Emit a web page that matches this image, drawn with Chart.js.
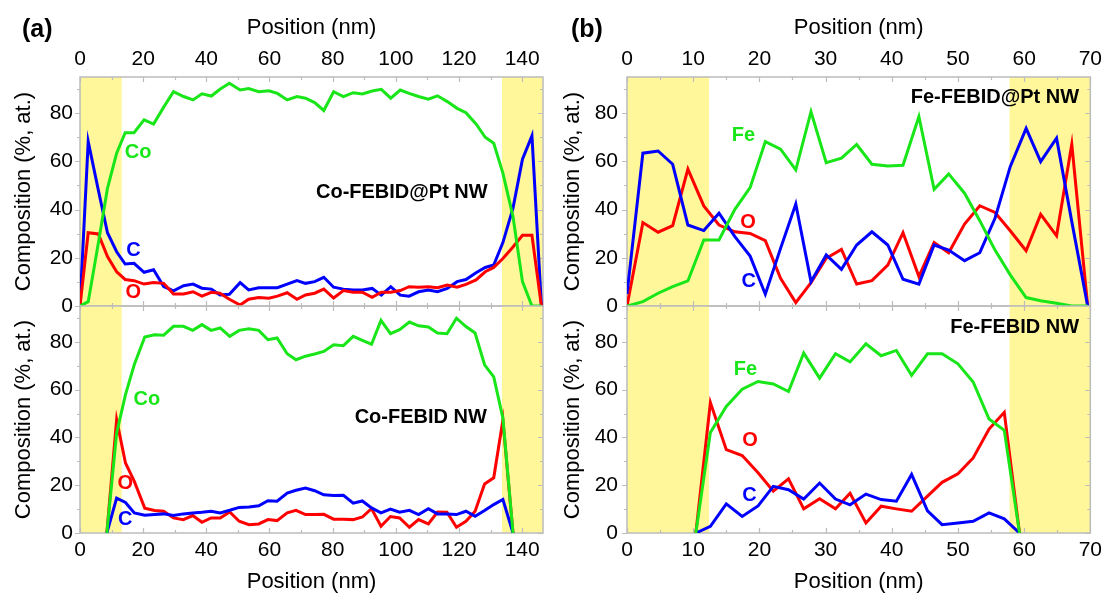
<!DOCTYPE html>
<html><head><meta charset="utf-8">
<script src="https://cdn.jsdelivr.net/npm/chart.js@4.4.1/dist/chart.umd.min.js"></script>
<style>
html,body{margin:0;padding:0;background:#fff;}
#wrap{position:relative;width:1107px;height:597px;overflow:hidden;background:#fff;}
canvas{position:absolute;left:0;top:0;}
</style></head><body>
<div id="wrap">
<canvas id="tl" width="1107" height="597"></canvas>
<canvas id="bl" width="1107" height="597"></canvas>
<canvas id="tr" width="1107" height="597"></canvas>
<canvas id="br" width="1107" height="597"></canvas>
</div>
<script>
// ---------- data ----------
// (a) top: Co-FEBID@Pt NW
const posCoPt = [0, 2.6, 5.8, 8.7, 11.6, 14.3, 17.1, 20.3, 23.3, 26.5, 29.6, 32.8, 35.8, 38.6, 41.6, 44.3, 47.3, 50.7, 53.4, 56.6, 59.8, 62.5, 65.6, 68.7, 71.4, 74.3, 77.2, 80.3, 83.4, 86.5, 89.4, 92.5, 95.4, 98.4, 101.4, 104.2, 107.2, 110.3, 113.2, 116.3, 119.4, 122.2, 125.4, 128.3, 131.0, 133.9, 137.1, 140.1, 143.1, 146.1];
const coCoPt = [0, 1.8, 26, 48.8, 63.4, 71.9, 71.9, 77.2, 75.5, 82.5, 88.9, 86.9, 85.5, 88.0, 87.1, 89.9, 92.4, 89.6, 90.2, 88.9, 89.3, 88.2, 85.5, 86.9, 86.2, 84.4, 81.1, 88.9, 86.9, 88.5, 88.0, 89.2, 89.9, 86.2, 89.6, 88.2, 86.9, 85.8, 87.2, 84.8, 82.0, 80.2, 75.5, 70.0, 67.5, 55.1, 37.1, 10.1, 0, 0];
const cCoPt = [0, 68.2, 48.1, 30.4, 22.5, 17.4, 17.7, 14.0, 15.0, 8.1, 6.3, 8.4, 9.1, 7.4, 7.0, 4.6, 4.9, 9.7, 6.7, 7.6, 7.6, 7.6, 9.1, 10.5, 9.4, 10.1, 11.9, 7.8, 7.0, 6.6, 6.6, 7.3, 4.5, 8.0, 4.5, 4.1, 5.9, 6.6, 5.9, 7.3, 10.1, 11.0, 13.8, 16.0, 17.0, 26.3, 40.6, 60.9, 70.6, 0];
const oCoPt = [0, 30.4, 29.9, 20.5, 14.2, 11.0, 10.5, 9.1, 9.7, 9.4, 5.0, 5.0, 5.9, 4.1, 5.7, 5.3, 2.8, 0.4, 2.8, 3.5, 3.2, 4.1, 5.5, 2.8, 4.6, 5.3, 7.0, 3.3, 6.4, 5.7, 5.7, 3.6, 5.7, 5.7, 6.4, 8.0, 7.8, 8.0, 7.6, 8.7, 7.8, 9.0, 10.8, 14.2, 16.0, 19.7, 24.5, 29.3, 29.3, 0];

// (a) bottom: Co-FEBID NW
const posCo = [8.5, 11.6, 14.4, 17.2, 20.5, 23.6, 26.5, 29.6, 32.7, 35.7, 38.6, 41.5, 44.4, 47.4, 50.4, 53.5, 56.6, 59.5, 62.4, 65.6, 68.4, 71.4, 74.3, 77.2, 80.3, 83.4, 86.5, 89.4, 92.3, 95.3, 98.3, 101.2, 104.3, 107.2, 110.3, 113.2, 116.2, 119.2, 122.2, 125.1, 128.1, 131.0, 133.9, 137.1];
const coCo = [0, 41.8, 57.9, 70.5, 82.0, 83.0, 82.8, 86.5, 86.5, 84.8, 87.2, 84.8, 85.8, 82.3, 84.8, 85.5, 84.8, 80.9, 81.6, 75.0, 72.5, 74.0, 74.9, 76.0, 78.8, 78.4, 82.3, 80.6, 79.0, 89.0, 83.4, 85.1, 88.3, 86.7, 86.2, 83.7, 83.4, 89.9, 86.4, 83.7, 70.4, 65.3, 48.1, 0];
const cCo = [0, 14.6, 12.8, 8.4, 7.4, 7.7, 8.0, 7.3, 8.0, 8.4, 8.7, 9.1, 8.4, 9.5, 10.7, 10.9, 11.4, 13.5, 13.3, 16.7, 17.9, 18.8, 17.7, 16.0, 15.7, 15.8, 12.5, 13.4, 10.5, 8.4, 10.0, 8.7, 9.5, 7.7, 10.2, 8.0, 8.0, 7.7, 9.1, 7.0, 9.4, 11.9, 14.0, 0];
const oCo = [0, 47.4, 29.3, 21.6, 10.4, 9.4, 9.1, 6.3, 5.6, 7.3, 4.5, 6.3, 6.3, 8.8, 4.9, 3.5, 3.8, 5.6, 5.2, 8.4, 9.5, 7.7, 7.7, 7.8, 5.8, 5.8, 5.6, 6.7, 10.2, 2.8, 6.9, 6.3, 2.4, 5.6, 3.8, 8.8, 8.7, 2.4, 4.9, 9.1, 20.5, 23.1, 47.2, 0];

// (b) top: Fe-FEBID@Pt NW
const posFePt = [0, 2.4, 4.7, 6.9, 9.2, 11.6, 13.9, 16.3, 18.6, 20.9, 23.2, 25.5, 27.8, 30.1, 32.4, 34.7, 37.0, 39.4, 41.7, 44.1, 46.4, 48.6, 51.0, 53.3, 55.6, 57.9, 60.3, 62.5, 64.9, 67.2, 69.6];
const feFePt = [0, 1.8, 5.3, 8.0, 10.4, 27.4, 27.4, 40.1, 49.1, 68.2, 65.1, 56.5, 80.6, 59.5, 61.3, 67.0, 58.8, 58.1, 58.4, 78.6, 48.4, 54.8, 46.8, 35.4, 23.2, 12.9, 3.5, 2.2, 1.1, 0, 0];
const cFePt = [5, 63.4, 64.3, 58.8, 33.6, 31.3, 38.5, 28.8, 20.7, 4.9, 23.9, 42.3, 10.1, 21.2, 15.2, 25.3, 30.8, 25.3, 11.1, 9.1, 25.3, 23.2, 18.8, 22.1, 36.4, 57.8, 73.7, 59.9, 69.6, 35.0, 0];
const oFePt = [0, 34.6, 30.6, 33.3, 56.8, 41.5, 33.6, 30.8, 30.1, 27.1, 11.5, 1.4, 9.7, 19.8, 23.5, 9.1, 10.5, 17.0, 30.4, 12.2, 26.3, 22.1, 34.0, 41.6, 38.8, 31.2, 22.9, 38.0, 29.1, 67.1, 0];

// (b) bottom: Fe-FEBID NW
const posFe = [10.4, 12.6, 15.0, 17.4, 19.8, 22.1, 24.4, 26.7, 29.1, 31.5, 33.7, 36.1, 38.4, 40.7, 43.0, 45.4, 47.6, 50.0, 52.3, 54.7, 57.0, 59.3];
const feFe = [0, 42.1, 53.0, 60.2, 63.4, 62.4, 59.2, 75.3, 64.8, 75.0, 71.6, 79.2, 74.2, 76.4, 66.0, 75.0, 75.0, 70.8, 63.2, 47.7, 43.0, 0];
const cFe = [0, 2.8, 12.2, 6.9, 11.3, 19.5, 18.1, 14.2, 20.9, 14.2, 11.8, 16.3, 14.0, 13.3, 24.5, 9.3, 3.5, 4.2, 4.9, 8.4, 5.9, 0];
const oFe = [0, 54.6, 34.9, 32.4, 25.2, 17.5, 22.7, 10.1, 14.3, 10.1, 16.6, 4.2, 11.2, 10.1, 9.1, 15.4, 21.2, 24.8, 31.4, 43.5, 50.5, 0];

// ticks
const xTicksA = [0, 20, 40, 60, 80, 100, 120, 140];
const xTickLabelsA = ['0', '20', '40', '60', '80', '100', '120', '140'];
const xTicksB = [0, 10, 20, 30, 40, 50, 60, 70];
const xTickLabelsB = ['0', '10', '20', '30', '40', '50', '60', '70'];
const yTicks = [0, 20, 40, 60, 80];
const yTickLabels = ['0', '20', '40', '60', '80'];
// shaded (Pt) regions
const bandsA = [[0, 13.2], [133.6, 146.6]];
const bandsB = [[0, 12.4], [57.8, 70]];

// ---------- styling ----------
const FONT = "'Liberation Sans', Arial, sans-serif";
const GREEN = '#18e618', BLUE = '#0000ff', RED = '#ff0000';
const FRAME = '#bcbcbc', BAND = '#fff799';

const framePlugin = {
  id: 'frame',
  beforeDatasetsDraw(chart) {
    const o = chart.options.plugins.frame;
    const {ctx, chartArea: a} = chart;
    const x = chart.scales.x, y = chart.scales.y;
    ctx.save();
    ctx.fillStyle = BAND;
    for (const [b0, b1] of o.bands) {
      const p0 = x.getPixelForValue(b0), p1 = x.getPixelForValue(b1);
      ctx.fillRect(p0, a.top, p1 - p0, a.bottom - a.top);
    }
    ctx.strokeStyle = FRAME; ctx.lineWidth = 1.5;
    ctx.strokeRect(a.left, a.top, a.right - a.left, a.bottom - a.top);
    ctx.beginPath();
    for (let v = 0; v <= o.xMax + 1e-6; v += o.xMinor) {
      const px = Math.round(x.getPixelForValue(v)) + 0.5;
      const len = (Math.abs((v / o.xMajor) - Math.round(v / o.xMajor)) < 1e-6) ? 5 : 3;
      ctx.moveTo(px, a.top); ctx.lineTo(px, a.top + len);
      ctx.moveTo(px, a.bottom); ctx.lineTo(px, a.bottom - len);
    }
    for (let v = 0; v <= 90; v += 10) {
      const py = Math.round(y.getPixelForValue(v)) + 0.5;
      const len = (v % 20 === 0) ? 5 : 3;
      ctx.moveTo(a.left, py); ctx.lineTo(a.left - len, py);
      ctx.moveTo(a.right, py); ctx.lineTo(a.right - len, py);
    }
    ctx.lineWidth = 1.2;
    ctx.stroke();
    ctx.restore();
  },
  afterDatasetsDraw(chart) {
    const o = chart.options.plugins.frame;
    const {ctx} = chart;
    const x = chart.scales.x, y = chart.scales.y;
    ctx.save();
    ctx.textBaseline = 'middle';
    for (const n of o.notes) {
      ctx.font = 'bold ' + n.size + 'px ' + FONT;
      ctx.fillStyle = n.color;
      ctx.textAlign = n.align || 'center';
      ctx.fillText(n.text, x.getPixelForValue(n.x), y.getPixelForValue(n.y));
    }
    if (o.letter) {
      ctx.font = 'bold 25px ' + FONT;
      ctx.fillStyle = '#000';
      ctx.textAlign = 'left';
      ctx.textBaseline = 'alphabetic';
      ctx.fillText(o.letter.text, o.letter.left, o.letter.base);
    }
    ctx.restore();
  }
};

function pts(pos, vals) { return pos.map((p, i) => ({x: p, y: vals[i]})); }

function panel(id, p) {
  const ds = p.series.map(s => ({
    data: pts(p.pos, s.vals), borderColor: s.color, borderWidth: 3,
    pointRadius: 0, tension: 0, fill: false, borderJoinStyle: 'miter'
  }));
  new Chart(document.getElementById(id), {
    type: 'line',
    data: {datasets: ds},
    plugins: [framePlugin],
    options: {
      responsive: false, animation: false, devicePixelRatio: 1,
      layout: {padding: p.pad},
      plugins: {
        legend: {display: false}, tooltip: {enabled: false},
        frame: {bands: p.bands, xMax: p.xMax, xMinor: p.xMinor, xMajor: p.xMajor, notes: p.notes, letter: p.letter}
      },
      scales: {
        x: {
          type: 'linear', position: p.xPos, min: 0, max: p.xMax,
          afterBuildTicks: s => { s.ticks = p.xTicks.map(v => ({value: v})); },
          afterFit: s => { s.height = p.xHeight; },
          ticks: {
            autoSkip: false, maxRotation: 0, color: '#000', padding: 5,
            font: {family: FONT, size: 21},
            callback: v => { const i = p.xTicks.indexOf(v); return i >= 0 ? p.xTickLabels[i] : ''; }
          },
          grid: {display: false, drawTicks: false},
          border: {display: false},
          title: {
            display: true, text: 'Position (nm)', color: '#000',
            font: {family: FONT, size: 22},
            padding: p.xPos === 'top' ? {top: 15, bottom: 0} : {top: 0, bottom: 2}
          }
        },
        y: {
          type: 'linear', position: 'left', min: 0, max: 95,
          afterBuildTicks: s => { s.ticks = yTicks.map(v => ({value: v})); },
          afterFit: s => { s.width = 80; },
          ticks: {
            color: '#000', padding: p.yLabelPad,
            font: {family: FONT, size: 21},
            callback: v => { const i = yTicks.indexOf(v); return i >= 0 ? yTickLabels[i] : ''; }
          },
          grid: {display: false, drawTicks: false},
          border: {display: false},
          title: {
            display: true, text: 'Composition (%, at.)', color: '#000',
            font: {family: FONT, size: 22},
            padding: {top: p.yTitlePad, bottom: 0}
          }
        }
      }
    }
  });
}

const colA = {xMax: 146.6, xMinor: 10, xMajor: 20, xTicks: xTicksA, xTickLabels: xTickLabelsA, bands: bandsA, yLabelPad: 7, yTitlePad: 11};
const colB = {xMax: 70, xMinor: 5, xMajor: 10, xTicks: xTicksB, xTickLabels: xTickLabelsB, bands: bandsB, yLabelPad: 9, yTitlePad: 13};

panel('tl', Object.assign({}, colA, {
  pos: posCoPt, xPos: 'top', xHeight: 77,
  pad: {left: 0, top: 0, right: 564, bottom: 291},
  series: [{vals: coCoPt, color: GREEN}, {vals: oCoPt, color: RED}, {vals: cCoPt, color: BLUE}],
  notes: [
    {text: 'Co', x: 18.4, y: 63.5, color: GREEN, size: 20},
    {text: 'C', x: 16.9, y: 23.2, color: BLUE, size: 20},
    {text: 'O', x: 16.9, y: 5.6, color: RED, size: 20},
    {text: 'Co-FEBID@Pt NW', x: 101.9, y: 46.9, color: '#000', size: 20}
  ],
  letter: {text: '(a)', left: 22, base: 37}
}));
panel('bl', Object.assign({}, colA, {
  pos: posCo, xPos: 'bottom', xHeight: 64,
  pad: {left: 0, top: 306, right: 564, bottom: 0},
  series: [{vals: coCo, color: GREEN}, {vals: cCo, color: BLUE}, {vals: oCo, color: RED}],
  notes: [
    {text: 'Co', x: 21.2, y: 55.8, color: GREEN, size: 20},
    {text: 'O', x: 14.3, y: 20.6, color: RED, size: 20},
    {text: 'C', x: 14.3, y: 5.6, color: BLUE, size: 20},
    {text: 'Co-FEBID NW', x: 107.9, y: 48.2, color: '#000', size: 20}
  ]
}));
panel('tr', Object.assign({}, colB, {
  pos: posFePt, xPos: 'top', xHeight: 77,
  pad: {left: 547, top: 0, right: 16, bottom: 291},
  series: [{vals: feFePt, color: GREEN}, {vals: cFePt, color: BLUE}, {vals: oFePt, color: RED}],
  notes: [
    {text: 'Fe', x: 17.6, y: 70.7, color: GREEN, size: 20},
    {text: 'O', x: 18.3, y: 34.6, color: RED, size: 20},
    {text: 'C', x: 18.4, y: 10, color: BLUE, size: 20},
    {text: 'Fe-FEBID@Pt NW', x: 68.3, y: 86.3, color: '#000', size: 20, align: 'right'}
  ],
  letter: {text: '(b)', left: 571, base: 37}
}));
panel('br', Object.assign({}, colB, {
  pos: posFe, xPos: 'bottom', xHeight: 64,
  pad: {left: 547, top: 306, right: 16, bottom: 0},
  series: [{vals: feFe, color: GREEN}, {vals: cFe, color: BLUE}, {vals: oFe, color: RED}],
  notes: [
    {text: 'Fe', x: 17.9, y: 68.3, color: GREEN, size: 20},
    {text: 'O', x: 18.6, y: 38.6, color: RED, size: 20},
    {text: 'C', x: 18.5, y: 15.6, color: BLUE, size: 20},
    {text: 'Fe-FEBID NW', x: 68.3, y: 86, color: '#000', size: 20, align: 'right'}
  ]
}));
</script>
</body></html>
